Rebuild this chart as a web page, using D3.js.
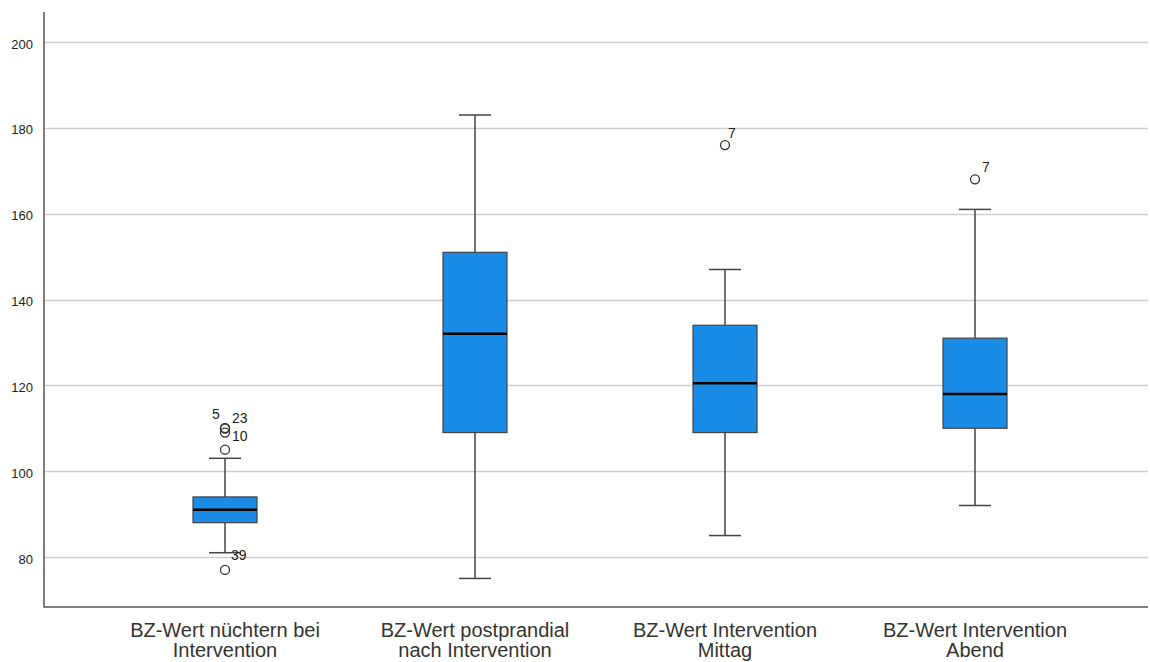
<!DOCTYPE html>
<html>
<head>
<meta charset="utf-8">
<script src="https://cdn.jsdelivr.net/npm/d3@7"></script>
<style>
  body { margin: 0; background: #fff; }
  svg { display: block; }
</style>
</head>
<body>
<div id="chart"></div>
<script>
const categories = [
  ["BZ-Wert nüchtern bei", "Intervention"],
  ["BZ-Wert postprandial", "nach Intervention"],
  ["BZ-Wert Intervention", "Mittag"],
  ["BZ-Wert Intervention", "Abend"]
];
// whisker low, Q1, median, Q3, whisker high
const whiskerLow = [81, 75, 85, 92];
const q1 = [88, 109, 109, 110];
const medians = [91, 132, 120.5, 118];
const q3 = [94, 151, 134, 131];
const whiskerHigh = [103, 183, 147, 161];
// outliers: [group index, value, case label]
const outliers = [
  [0, 110, "5"], [0, 110, "23"], [0, 109, "10"], [0, 105, ""], [0, 77, "39"],
  [2, 176, "7"], [3, 168, "7"]
];
const yTicks = [80, 100, 120, 140, 160, 180, 200];

const width = 1150, height = 662;
const plotL = 44, plotR = 1148, plotT = 12, plotB = 607;

const svg = d3.select("#chart").append("svg")
  .attr("width", width).attr("height", height);

const y = d3.scaleLinear().domain([68.35, 207]).range([plotB, plotT]);
const x = d3.scaleBand().domain(d3.range(categories.length)).range([100, 1100]);
const boxW = 64;

// grid
svg.append("g").selectAll("line")
  .data(yTicks).join("line")
    .attr("x1", plotL).attr("x2", plotR)
    .attr("y1", d => Math.round(y(d)) + 0.5).attr("y2", d => Math.round(y(d)) + 0.5)
    .attr("stroke", "#cfcfcf").attr("stroke-width", 1.5);

// y axis labels
svg.append("g").selectAll("text")
  .data(yTicks).join("text")
    .attr("x", 33).attr("y", d => y(d) + 2).attr("dy", "0.35em")
    .attr("text-anchor", "end")
    .style("font", "13px 'Liberation Sans', Arial, sans-serif")
    .attr("fill", "#222")
    .text(d => d);

// axes lines
svg.append("path")
  .attr("d", `M${plotL},${plotT}V${plotB}H${plotR}`)
  .attr("fill", "none").attr("stroke", "#555").attr("stroke-width", 1.5);

const groups = svg.append("g").selectAll("g")
  .data(d3.range(categories.length)).join("g")
    .attr("transform", i => `translate(${x(i) + x.bandwidth() / 2},0)`);

// whiskers
groups.append("line")
  .attr("x1", 0).attr("x2", 0)
  .attr("y1", i => y(whiskerHigh[i])).attr("y2", i => y(q3[i]))
  .attr("stroke", "#444").attr("stroke-width", 1.5);
groups.append("line")
  .attr("x1", 0).attr("x2", 0)
  .attr("y1", i => y(q1[i])).attr("y2", i => y(whiskerLow[i]))
  .attr("stroke", "#444").attr("stroke-width", 1.5);
groups.selectAll(".cap")
  .data(i => [whiskerHigh[i], whiskerLow[i]]).join("line")
    .attr("class", "cap")
    .attr("x1", -boxW / 4).attr("x2", boxW / 4)
    .attr("y1", d => y(d)).attr("y2", d => y(d))
    .attr("stroke", "#444").attr("stroke-width", 1.5);

// boxes
groups.append("rect")
  .attr("x", -boxW / 2).attr("width", boxW)
  .attr("y", i => y(q3[i])).attr("height", i => y(q1[i]) - y(q3[i]))
  .attr("fill", "#1a8ce6").attr("stroke", "#444").attr("stroke-width", 1.2);

// medians
groups.append("line")
  .attr("x1", -boxW / 2).attr("x2", boxW / 2)
  .attr("y1", i => y(medians[i])).attr("y2", i => y(medians[i]))
  .attr("stroke", "#000").attr("stroke-width", 2.5);

// outliers
const out = svg.append("g").selectAll("g")
  .data(outliers).join("g")
    .attr("transform", d => `translate(${x(d[0]) + x.bandwidth() / 2},${y(d[1])})`);
out.append("circle")
  .attr("r", 4.5).attr("fill", "none").attr("stroke", "#333").attr("stroke-width", 1.3);

// case label offsets, by outlier index
const labelOffsets = [[-13, -14], [7, -10.5], [7, 4], null, [6, -15], [3, -12], [7, -12]];
out.filter(d => d[2] !== "").append("text")
  .attr("x", d => labelOffsets[outliers.indexOf(d)][0])
  .attr("y", d => labelOffsets[outliers.indexOf(d)][1])
  .attr("dy", "0.35em")
  .style("font", "14px 'Liberation Sans', Arial, sans-serif")
  .attr("fill", "#222")
  .text(d => d[2]);

// category labels
const cat = svg.append("g").selectAll("text")
  .data(categories).join("text")
    .attr("x", (d, i) => x(i) + x.bandwidth() / 2)
    .attr("text-anchor", "middle")
    .style("font", "20px 'Liberation Sans', Arial, sans-serif")
    .attr("fill", "#333");
cat.selectAll("tspan")
  .data(d => d).join("tspan")
    .attr("x", function() { return d3.select(this.parentNode).attr("x"); })
    .attr("y", (d, j) => 637 + j * 20)
    .text(d => d);
</script>
</body>
</html>
